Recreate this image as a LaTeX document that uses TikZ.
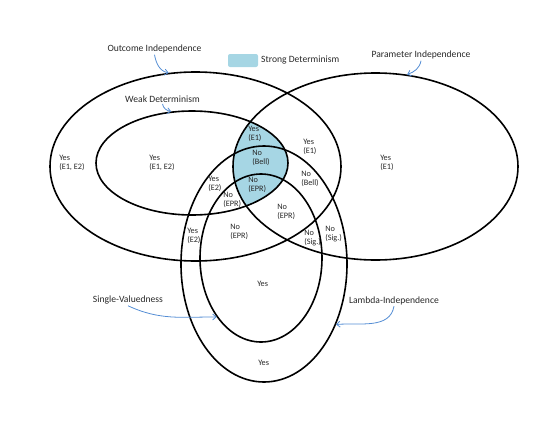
\documentclass[tikz,border=0pt]{standalone}
\usepackage{fontspec}
\setmainfont{Carlito}
\usetikzlibrary{positioning,shapes.geometric,arrows.meta}
\definecolor{sdblue}{RGB}{166,214,228}
\definecolor{arrowblue}{RGB}{84,141,212}
\definecolor{labelgray}{RGB}{40,40,40}

\begin{document}
\begin{tikzpicture}[x=0.75pt, y=-0.75pt,
                    region/.style={ellipse, draw, line width=1.2pt, inner sep=0pt},
                    cell/.style={anchor=west, align=left, inner sep=0pt, text=labelgray, font=\fontsize{6.2}{6.8}\selectfont},
                    setname/.style={inner sep=1pt, text=labelgray, font=\fontsize{7.2}{8}\selectfont},
                    pointer/.style={arrowblue, line width=0.6pt, -{Straight Barb[length=2.5pt,width=4.5pt]}}]
    \useasboundingbox (0,0) rectangle (550,425);

    % Strong Determinism: Weak Determinism inside Parameter Independence
    \begin{scope}
        \clip (375.5,166.5) ellipse [x radius=106.875pt, y radius=70.125pt];
        \fill[sdblue] (192,163) ellipse [x radius=72pt, y radius=39pt];
    \end{scope}

    % The sets
    \node[region, minimum width=218.25pt, minimum height=141.75pt] (OI) at (195.5,166.5) {};
    \node[region, minimum width=213.75pt, minimum height=140.25pt] (PI) at (375.5,166.5) {};
    \node[region, minimum width=144pt, minimum height=78pt] (WD) at (192,163) {};
    \node[region, minimum width=124.5pt, minimum height=177pt] (LI) at (264,264) {};
    \node[region, minimum width=91.5pt, minimum height=126pt] (SV) at (261,258) {};

    % Answers in each region
    \node[cell] (OIonly) at (59,163) {Yes\\(E1, E2)};
    \node[cell] (WDonly) at (149,163) {Yes\\(E1, E2)};
    \node[cell] (PIonly) at (380,163) {Yes\\(E1)};
    \node[cell] (SDtop) at (248,134) {Yes\\(E1)};
    \node[cell] (SDbell) at (252,158) {No\\(Bell)};
    \node[cell] (SDepr) at (248,185) {No\\(EPR)};
    \node[cell] (PIeone) at (303,147) {Yes\\(E1)};
    \node[cell] (PIbell) at (301,179) {No\\(Bell)};
    \node[cell] (WDetwo) at (208,184) {Yes\\(E2)};
    \node[cell] (WDepr) at (223,200) {No\\(EPR)};
    \node[cell] (PIepr) at (277,212) {No\\(EPR)};
    \node[cell] (OIetwo) at (187,236) {Yes\\(E2)};
    \node[cell] (OIepr) at (230,232) {No\\(EPR)};
    \node[cell] (SVsig) at (304,238) {No\\(Sig.)};
    \node[cell] (LIsig) at (325,234) {No\\(Sig.)};
    \node[cell] (SVonly) at (257,284) {Yes};
    \node[cell] (LIonly) at (258,363) {Yes};

    % Names of the sets
    \node[setname] (OIname) at (154.5,49) {Outcome Independence};
    \node[setname] (WDname) at (162.5,99) {Weak Determinism};
    \node[setname] (PIname) at (421,55) {Parameter Independence};
    \node[setname] (SVname) at (128,300) {Single-Valuedness};
    \node[setname] (LIname) at (394,300.5) {Lambda-Independence};
    \node[fill=sdblue, rounded corners=1.5pt, minimum width=22.5pt, minimum height=9.75pt, inner sep=0pt] (SDkey) at (243,60.5) {};
    \node[setname, right=1pt of SDkey] (SDname) {Strong Determinism};

    % Pointers
    \draw[pointer] (OIname.south) to[out=-80, in=170] (OI.106);
    \draw[pointer] (WDname.south) to[out=-80, in=170] (WD.112);
    \draw[pointer] (PIname.south) to[out=-100, in=20] (PI.71);
    \draw[pointer] (SVname.south) to[out=-25, in=180] (SV.233);
    \draw[pointer] (LIname.south) to[out=-100, in=5] (LI.-40);
\end{tikzpicture}
\end{document}
